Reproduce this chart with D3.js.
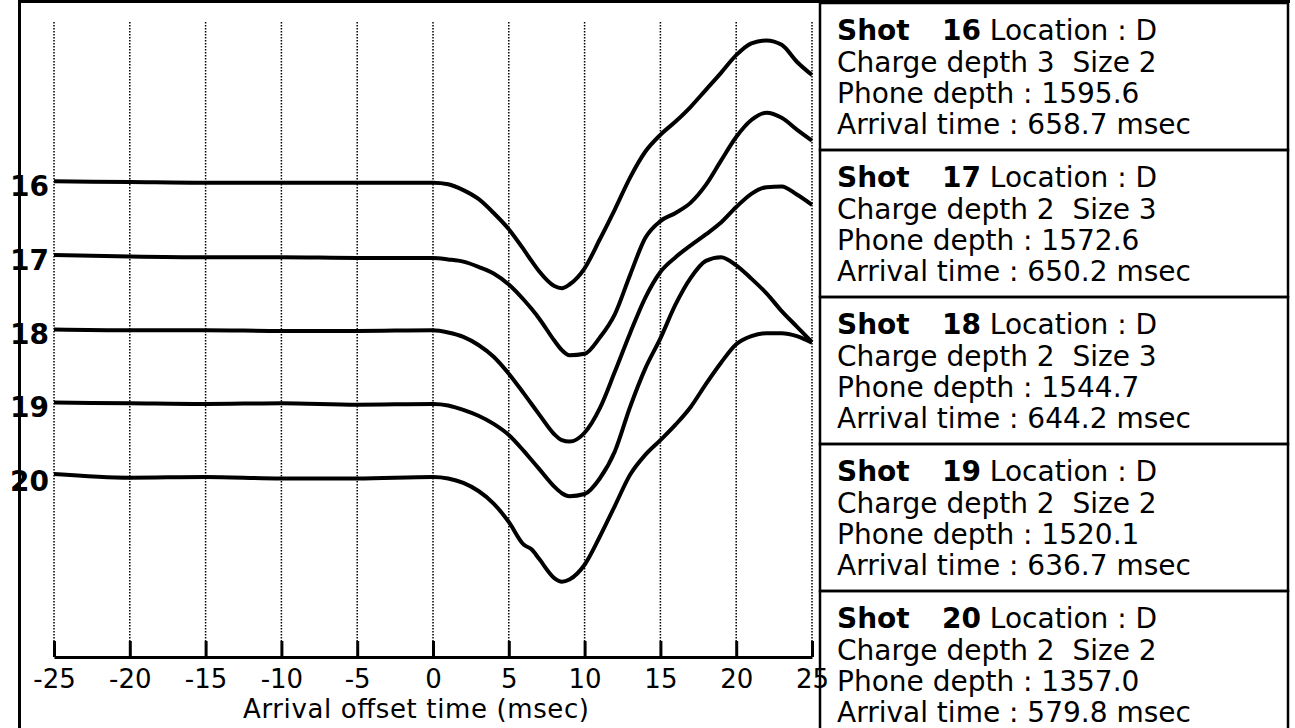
<!DOCTYPE html>
<html>
<head>
<meta charset="utf-8">
<script src="https://cdn.jsdelivr.net/npm/d3@7"></script>
<style>
  body { margin: 0; background: #fff; }
  svg { display: block; }
</style>
</head>
<body>
<svg id="chart" width="1295" height="728"></svg>
<script>
// shots, top to bottom
const shots = [16, 17, 18, 19, 20];
const chargeDepth = [3, 2, 2, 2, 2];
const chargeSize = [2, 3, 3, 2, 2];
const phoneDepth = ["1595.6", "1572.6", "1544.7", "1520.1", "1357.0"];
const arrivalTime = ["658.7", "650.2", "644.2", "636.7", "579.8"];

// sample times (msec) and trace amplitudes (1 = trace spacing, up is positive)
const offsetTimes = [-25, -20, -15, -10, -5, 0, 1, 2, 3, 4, 5, 6, 6.5, 7, 8, 8.5, 9,
  10, 11, 12, 13, 14, 15, 16, 17, 18, 19, 20, 21, 22, 23, 24, 25];
const trace16 = [0.01, 0.0, -0.01, -0.01, -0.01, -0.01, -0.03, -0.11, -0.23, -0.42, -0.64, -0.92, -1.07, -1.21, -1.41, -1.44, -1.39,
  -1.17, -0.78, -0.37, 0.06, 0.41, 0.64, 0.82, 1.02, 1.25, 1.48, 1.72, 1.88, 1.92, 1.86, 1.63, 1.45];
const trace17 = [0.01, -0.01, -0.02, -0.02, -0.03, -0.03, -0.05, -0.08, -0.15, -0.24, -0.39, -0.60, -0.72, -0.85, -1.15, -1.28, -1.35,
  -1.33, -1.11, -0.79, -0.26, 0.24, 0.47, 0.58, 0.72, 0.96, 1.29, 1.61, 1.84, 1.94, 1.87, 1.71, 1.56];
const trace18 = [0.0, -0.01, -0.01, -0.02, -0.02, -0.01, -0.04, -0.10, -0.21, -0.37, -0.60, -0.87, -1.01, -1.15, -1.42, -1.50, -1.52,
  -1.40, -1.07, -0.57, -0.05, 0.43, 0.78, 0.98, 1.14, 1.29, 1.45, 1.66, 1.84, 1.93, 1.94, 1.83, 1.69];
const trace19 = [0.01, 0.0, -0.01, 0.0, -0.02, -0.01, -0.03, -0.09, -0.17, -0.28, -0.43, -0.65, -0.77, -0.89, -1.13, -1.22, -1.26,
  -1.23, -1.02, -0.65, -0.05, 0.47, 0.88, 1.34, 1.70, 1.93, 1.98, 1.87, 1.69, 1.49, 1.25, 1.04, 0.83];
const trace20 = [0.04, -0.01, 0.0, -0.02, -0.02, 0.0, -0.02, -0.08, -0.19, -0.36, -0.61, -0.92, -0.98, -1.11, -1.37, -1.42, -1.39,
  -1.19, -0.81, -0.39, 0.03, 0.30, 0.50, 0.71, 0.95, 1.26, 1.55, 1.80, 1.91, 1.95, 1.95, 1.91, 1.82];
const traces = [trace16, trace17, trace18, trace19, trace20];

const xTicks = [-25, -20, -15, -10, -5, 0, 5, 10, 15, 20, 25];

const svg = d3.select("#chart");
const font = "'DejaVu Sans', sans-serif";

const x = d3.scaleLinear().domain([-25, 25]).range([54, 812]);
const y = d3.scaleLinear().domain([0, 4]).range([182, 477]);
const axisY = 657;

// frame
svg.append("path")
  .attr("d", "M19.5,728 V1.5 H1290")
  .attr("fill", "none")
  .attr("stroke", "#000")
  .attr("stroke-width", 3);

// dotted gridlines
svg.append("g")
  .selectAll("line")
  .data(xTicks)
  .join("line")
  .attr("x1", d => x(d)).attr("x2", d => x(d))
  .attr("y1", 22).attr("y2", axisY - 16)
  .attr("stroke", "#000")
  .attr("stroke-width", 1.5)
  .attr("stroke-dasharray", "1.5,1.5");

// x axis
const xAxis = svg.append("g")
  .attr("transform", `translate(0,${axisY})`)
  .call(d3.axisBottom(x)
    .tickValues(xTicks)
    .tickSizeInner(-16)
    .tickSizeOuter(0)
    .tickPadding(13)
    .tickFormat(d => String(d)));
xAxis.select(".domain").attr("stroke-width", 3);
xAxis.selectAll(".tick line").attr("stroke-width", 3);
xAxis.selectAll(".tick text")
  .attr("font-family", font)
  .attr("font-size", 26)
  .attr("fill", "#000");

svg.append("text")
  .attr("x", 416).attr("y", 718)
  .attr("text-anchor", "middle")
  .attr("font-family", font)
  .attr("font-size", 26)
  .attr("textLength", 346)
  .text("Arrival offset time (msec)");

// traces
const line = d3.line()
  .x((d, k) => x(offsetTimes[k]))
  .curve(d3.curveMonotoneX);

svg.append("g")
  .selectAll("path")
  .data(traces)
  .join("path")
  .attr("d", (vals, i) => line.y(d => y(i - d))(vals))
  .attr("fill", "none")
  .attr("stroke", "#000")
  .attr("stroke-width", 4)
  .attr("stroke-linejoin", "round");

// trace labels
svg.append("g")
  .selectAll("text")
  .data(shots)
  .join("text")
  .attr("x", 49)
  .attr("y", (d, i) => y(i) + 14)
  .attr("text-anchor", "end")
  .attr("font-family", font)
  .attr("font-weight", "bold")
  .attr("font-size", 28)
  .text(d => d);

// info boxes
const boxTop = i => 3 + i * 147;
const boxes = svg.append("g")
  .selectAll("g")
  .data(shots)
  .join("g")
  .attr("transform", (d, i) => `translate(820,${boxTop(i)})`);

boxes.append("rect")
  .attr("width", 468).attr("height", 147)
  .attr("fill", "none")
  .attr("stroke", "#000")
  .attr("stroke-width", 2.5);

const t1 = boxes.append("text")
  .attr("x", 17).attr("y", 37)
  .attr("font-family", font)
  .attr("font-size", 28);
t1.append("tspan").attr("font-weight", "bold").text("Shot");
t1.append("tspan").attr("x", 122).attr("font-weight", "bold").text(d => d);
t1.append("tspan").text(" Location : D");

boxes.append("text")
  .attr("x", 17).attr("y", 69)
  .attr("font-family", font).attr("font-size", 28)
  .style("white-space", "pre")
  .text((d, i) => `Charge depth ${chargeDepth[i]}  Size ${chargeSize[i]}`);

boxes.append("text")
  .attr("x", 17).attr("y", 100)
  .attr("font-family", font).attr("font-size", 28)
  .text((d, i) => `Phone depth : ${phoneDepth[i]}`);

boxes.append("text")
  .attr("x", 17).attr("y", 131)
  .attr("font-family", font).attr("font-size", 28)
  .text((d, i) => `Arrival time : ${arrivalTime[i]} msec`);
</script>
</body>
</html>
